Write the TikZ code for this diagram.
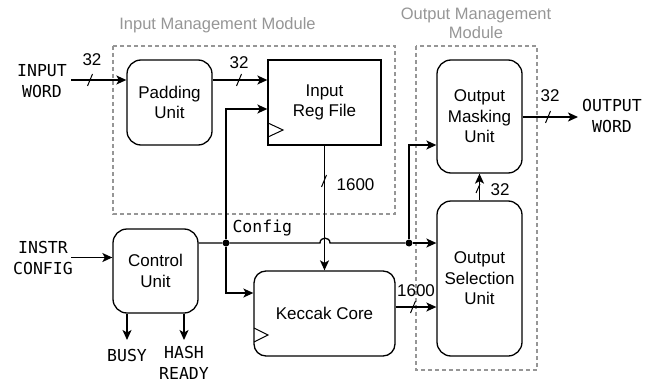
\documentclass[tikz,border=0pt]{standalone}
\usepackage{fontspec}
\setmainfont{Liberation Sans}
\newfontfamily\monof{DejaVu Sans Mono}
\usetikzlibrary{arrows.meta}
\definecolor{modgrey}{RGB}{150,150,150}
\begin{document}
\begin{tikzpicture}[x=1pt,y=-1pt,
  every node/.style={font=\fontsize{17}{20.5}\selectfont},
  unit/.style={draw,line width=1.3pt,rounded corners=14pt,align=center,inner sep=0pt},
  regbox/.style={draw,line width=1.3pt,align=center,inner sep=0pt},
  wire/.style={line width=1.3pt},
  arr/.style={wire,-{Stealth[length=10pt,width=9pt,inset=2.5pt]}},
  module/.style={draw=modgrey,line width=1.2pt,dash pattern=on 4pt off 3pt},
  modlabel/.style={text=modgrey,font=\fontsize{16.5}{19}\selectfont,align=center},
  sig/.style={font=\monof\fontsize{16.5}{21}\selectfont,align=center},
  num/.style={font=\fontsize{17}{20}\selectfont},
  dot/.style={circle,fill,inner sep=0pt,minimum size=7pt},
  busslash/.style={line width=1pt}
]
\useasboundingbox (0,0) rectangle (660,385);

% module frames
\draw[module] (113,46) rectangle (395,214);
\draw[module] (416,46) rectangle (537,370);
\node[modlabel,anchor=base] (inmodlbl) at (217.5,30) {Input Management Module};
\node[modlabel] (outmodlbl) at (476,23.7) {Output Management\\Module};

% blocks
\node[unit,minimum width=85pt,minimum height=85pt] (pad) at (169.5,102.5) {Padding\\Unit};
\node[regbox,minimum width=113pt,minimum height=85pt] (ireg) at (324.5,102.5) {Input\\Reg File};
\node[unit,minimum width=85pt,minimum height=113pt] (omask) at (479.5,116.5) {Output\\Masking\\Unit};
\node[unit,minimum width=85pt,minimum height=155pt] (osel) at (479.5,278.5) {Output\\Selection\\Unit};
\node[unit,minimum width=85pt,minimum height=84pt] (ctl) at (155.5,271) {Control\\Unit};
\node[unit,rounded corners=12pt,minimum width=141pt,minimum height=85pt] (kec) at (324.5,313.5) {Keccak Core};

% clock marks
\draw[line width=1pt] (268,123) -- (283,130) -- (268,137);
\draw[line width=1pt] (254,328) -- (268,335) -- (254,342);

% external signals
\node[sig] (inword) at (42,81) {INPUT\\WORD};
\node[sig] (instr) at (43,257.5) {INSTR\\CONFIG};
\node[sig] (outword) at (612,116) {OUTPUT\\WORD};
\node[sig] (busy) at (127,355.5) {BUSY};
\node[sig] (hash) at (184,363) {HASH\\READY};

% input word -> padding
\coordinate (inw) at (71,80);
\draw[arr] (inw) -- (pad.west |- inw);
\draw[busslash] (87.5,86) -- (92.5,74);
\node[num] (l1) at (92,59.5) {32};

% padding -> input reg
\draw[arr] (pad.east |- inw) -- (ireg.west |- inw);
\draw[busslash] (236.5,86) -- (241.5,74);
\node[num] (l2) at (239,63) {32};

% config net
\node[dot] (j1) at (226,243) {};
\node[dot] (j2) at (409,243) {};
\draw[wire] (ctl.east |- j1) -- (j1) -- (320,243) .. controls (320,236.5) and (330,236.5) .. (330,243) -- (j2);
\draw[arr] (j2) -- (osel.west |- j2);
\coordinate (c1) at (0,109);
\coordinate (c2) at (0,293);
\coordinate (c3) at (0,145);
\draw[arr] (j1) |- (ireg.west |- c1);
\draw[arr] (j1) |- (kec.west |- c2);
\draw[arr] (j2) |- (omask.west |- c3);
\node[sig,anchor=base west] (cfg) at (229,232) {Config};

% input reg -> keccak
\draw[arr] (ireg.south) -- (kec.north);
\draw[busslash] (321.5,187) -- (326.5,175);
\node[num] (l3) at (355.5,184.5) {1600};

% keccak -> output selection
\coordinate (c4) at (0,307);
\draw[arr] (kec.east |- c4) -- (osel.west |- c4);
\draw[busslash] (410.5,313) -- (415.5,301);
\node[num] (l4) at (416,291) {1600};

% output selection -> output masking
\draw[arr] (osel.north) -- (omask.south);
\draw[busslash] (476,193) -- (480,184);
\node[num] (l5) at (500,190) {32};

% output masking -> output word
\coordinate (c5) at (578,117);
\draw[arr] (omask.east |- c5) -- (c5);
\draw[busslash] (545.5,123) -- (550.5,111);
\node[num] (l6) at (550,96) {32};

% instr config -> control
\coordinate (c6) at (71,257.5);
\draw[arr] (c6) -- (ctl.west |- c6);

% control outputs
\coordinate (b1) at (127,340);
\coordinate (b2) at (184,340);
\draw[arr] (ctl.south -| b1) -- (b1);
\draw[arr] (ctl.south -| b2) -- (b2);
\end{tikzpicture}
\end{document}
